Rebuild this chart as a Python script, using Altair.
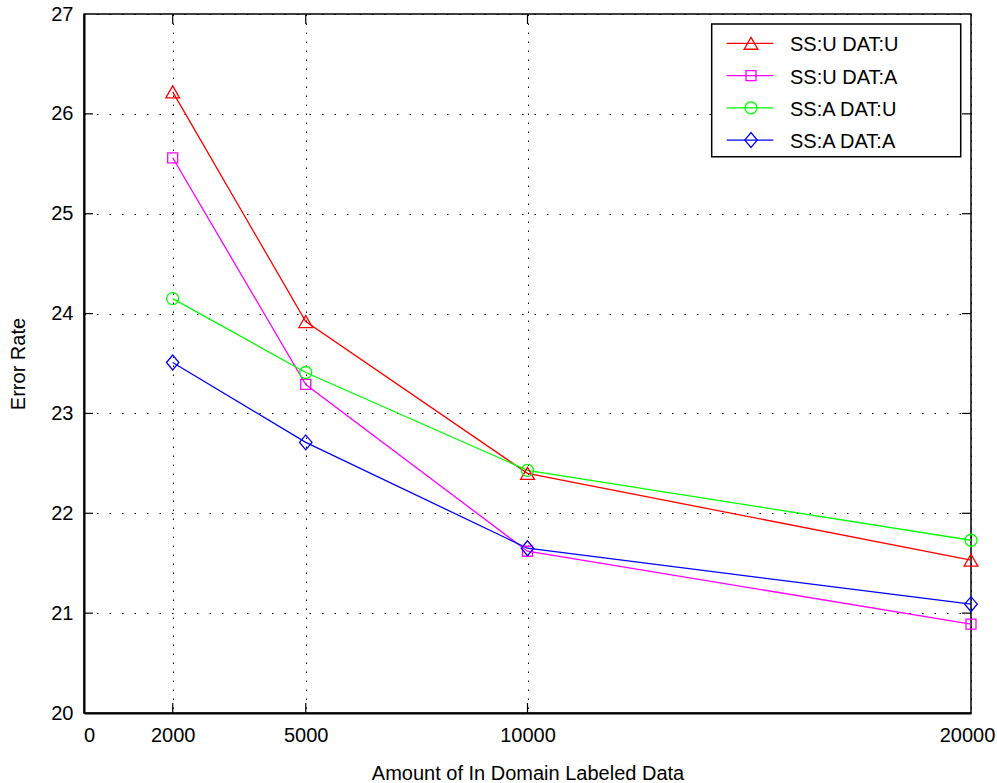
import altair as alt
import pandas as pd

# ---- data ----
x_values = [2000, 5000, 10000, 20000]
series_names = ["SS:U DAT:U", "SS:U DAT:A", "SS:A DAT:U", "SS:A DAT:A"]
err_ssu_datu = [26.22, 23.92, 22.40, 21.53]
err_ssu_data = [25.56, 23.29, 21.62, 20.89]
err_ssa_datu = [24.15, 23.41, 22.43, 21.73]
err_ssa_data = [23.51, 22.71, 21.65, 21.09]
x_ticks = [0, 2000, 5000, 10000, 20000]
y_ticks = [20, 21, 22, 23, 24, 25, 26, 27]
inner_x_ticks = [2000, 5000, 10000]
inner_y_ticks = [21, 22, 23, 24, 25, 26]

colors = ["#ff0000", "#ff00ff", "#00ff00", "#0000ff"]
diamond_path = "M-1,0L0,-1.2L1,0L0,1.2Z"
shapes = ["triangle-up", "square", "circle", diamond_path]
sizes = [190, 100, 144, 155]

rows = []
for name, vals in zip(series_names, [err_ssu_datu, err_ssu_data, err_ssa_datu, err_ssa_data]):
    for xv, yv in zip(x_values, vals):
        rows.append({"series": name, "x": xv, "y": yv})
df = pd.DataFrame(rows)

W, H = 887, 699
FONT = "Liberation Sans"

xscale = alt.Scale(domain=[0, 20000], nice=False, zero=False)
yscale = alt.Scale(domain=[20, 27], nice=False, zero=False)
color_scale = alt.Scale(domain=series_names, range=colors)
shape_scale = alt.Scale(domain=series_names, range=shapes)
size_scale = alt.Scale(type="ordinal", domain=series_names, range=sizes)

x_axis = alt.Axis(
    values=x_ticks, format="d", title="Amount of In Domain Labeled Data",
    grid=True, gridDash=[1.5, 7.5], gridColor="black", gridWidth=1, gridOpacity=1,
    ticks=False, tickSize=0, domain=True, domainColor="black", domainWidth=2,
    labelFont=FONT, labelFontSize=20, labelColor="black", labelPadding=12,
    labelFlush=False,
    labelOffset={"condition": [{"test": "datum.value === 0", "value": 5},
                               {"test": "datum.value === 20000", "value": -4}],
                 "value": 0},
    titleFont=FONT, titleFontSize=20, titleFontWeight="normal", titleColor="black",
    titlePadding=18,
)
y_axis = alt.Axis(
    values=y_ticks, format="d", title="Error Rate",
    grid=True, gridDash=[1.5, 11], gridColor="black", gridWidth=1, gridOpacity=1,
    ticks=False, tickSize=0, domain=True, domainColor="black", domainWidth=2,
    labelFont=FONT, labelFontSize=20, labelColor="black", labelPadding=11,
    labelFlush=False,
    titleFont=FONT, titleFontSize=20, titleFontWeight="normal", titleColor="black",
    titlePadding=22,
)

color_enc = alt.Color("series:N", scale=color_scale, legend=None)
shape_enc = alt.Shape("series:N", scale=shape_scale, legend=None)
size_enc = alt.Size("series:N", scale=size_scale, legend=None)

lines = alt.Chart(df).mark_line(strokeWidth=1.3).encode(
    x=alt.X("x:Q", scale=xscale, axis=x_axis),
    y=alt.Y("y:Q", scale=yscale, axis=y_axis),
    color=color_enc,
    detail="series:N",
)
points = alt.Chart(df).mark_point(filled=False, strokeWidth=1.3, opacity=1).encode(
    x=alt.X("x:Q", scale=xscale),
    y=alt.Y("y:Q", scale=yscale),
    color=color_enc, shape=shape_enc, size=size_enc,
)

ydf = pd.DataFrame({"v": inner_y_ticks})
xdf = pd.DataFrame({"v": inner_x_ticks})
tick_left = alt.Chart(ydf).mark_rule(color="black", strokeWidth=1.2).encode(
    y=alt.Y("v:Q", scale=yscale), x=alt.value(0), x2=alt.value(9))
tick_right = alt.Chart(ydf).mark_rule(color="black", strokeWidth=1.2).encode(
    y=alt.Y("v:Q", scale=yscale), x=alt.value(W - 9), x2=alt.value(W))
tick_bottom = alt.Chart(xdf).mark_rule(color="black", strokeWidth=1.2).encode(
    x=alt.X("v:Q", scale=xscale), y=alt.value(H - 10), y2=alt.value(H))
tick_top = alt.Chart(xdf).mark_rule(color="black", strokeWidth=1.2).encode(
    x=alt.X("v:Q", scale=xscale), y=alt.value(0), y2=alt.value(10))

# ---- legend (drawn box) ----
legend_box = alt.Chart(pd.DataFrame({"a": [0]})).mark_rect(
    fill="white", stroke="black", strokeWidth=1.5).encode(
    x=alt.value(627.7), x2=alt.value(876.7), y=alt.value(10), y2=alt.value(142.7))

legend_layers = [legend_box]
row_y0, row_step = 29.3, 32.25
for i, name in enumerate(series_names):
    ldf = pd.DataFrame({"series": [name]})
    ry = row_y0 + i * row_step
    legend_layers.append(alt.Chart(ldf).mark_rule(strokeWidth=1.3).encode(
        y=alt.value(ry), x=alt.value(642.7), x2=alt.value(689.3), color=color_enc))
    legend_layers.append(alt.Chart(ldf).mark_point(filled=False, strokeWidth=1.3, opacity=1).encode(
        y=alt.value(ry), x=alt.value(667), color=color_enc, shape=shape_enc, size=size_enc))
    legend_layers.append(alt.Chart(ldf).mark_text(
        align="left", baseline="middle", font=FONT, fontSize=20, dy=2, color="black").encode(
        y=alt.value(ry), x=alt.value(706), text="series:N"))

chart = alt.layer(lines, points, tick_left, tick_right, tick_bottom, tick_top,
                  *legend_layers).properties(
    width=W, height=H,
    autosize=alt.AutoSizeParams(type="none"),
    padding={"left": 84, "top": 14, "right": 26, "bottom": 70},
).configure(background="white").configure_view(stroke="black", strokeWidth=1.5)

chart.save("out.html", embed_options={"renderer": "svg", "actions": False})
